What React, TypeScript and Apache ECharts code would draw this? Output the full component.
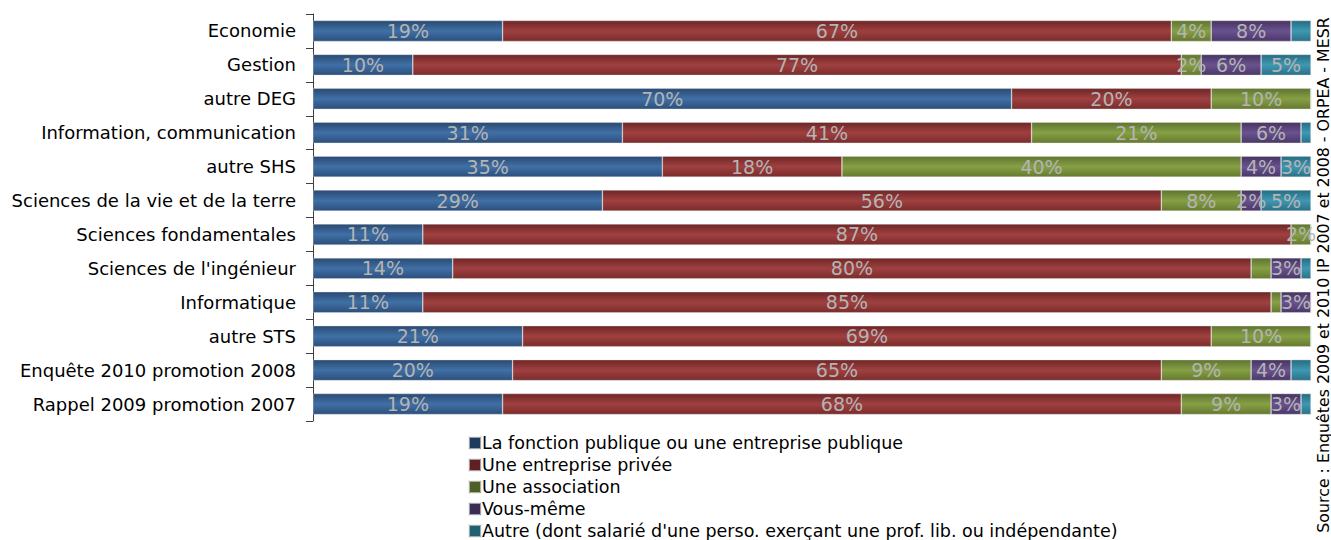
import React, { useEffect, useRef } from "react";
import * as echarts from "echarts";

const categories = [
  "Economie",
  "Gestion",
  "autre DEG",
  "Information, communication",
  "autre SHS",
  "Sciences de la vie et de la terre",
  "Sciences fondamentales",
  "Sciences de l'ingénieur",
  "Informatique",
  "autre STS",
  "Enquête 2010 promotion 2008",
  "Rappel 2009 promotion 2007",
];

const seriesNames = [
  "La fonction publique ou une entreprise publique",
  "Une entreprise privée",
  "Une association",
  "Vous-même",
  "Autre (dont salarié d'une perso. exerçant une prof. lib. ou indépendante)",
];

const publique = [19, 10, 70, 31, 35, 29, 11, 14, 11, 21, 20, 19];
const privee = [67, 77, 20, 41, 18, 56, 87, 80, 85, 69, 65, 68];
const association = [4, 2, 10, 21, 40, 8, 2, 2, 1, 10, 9, 9];
const vousMeme = [8, 6, 0, 6, 4, 2, 0, 3, 3, 0, 4, 3];
const autre = [2, 5, 0, 1, 3, 5, 0, 1, 0, 0, 2, 1];

// labels not printed in the source chart: [seriesIndex, categoryIndex]
const hiddenLabels: [number, number][] = [
  [4, 0],
  [2, 7],
  [4, 10],
];

const sourceText = "Source : Enquêtes 2009 et 2010 IP 2007 et 2008 - ORPEA - MESR";

const barColors = [
  ["#2a4a72", "#4070a6", "#2c4f7c"],
  ["#6e2626", "#a04040", "#7a2c2c"],
  ["#5f7430", "#86a045", "#66792f"],
  ["#45345f", "#6a5290", "#4a3868"],
  ["#256c82", "#3f98b3", "#2a7188"],
];
const legendColors = ["#203a5c", "#5e2020", "#4f6026", "#3a2c52", "#21606f"];

function grad(c: string[]) {
  return new echarts.graphic.LinearGradient(0, 0, 0, 1, [
    { offset: 0, color: c[0] },
    { offset: 0.5, color: c[1] },
    { offset: 1, color: c[2] },
  ]);
}

export default function App() {
  const ref = useRef<HTMLDivElement>(null);
  useEffect(() => {
    if (!ref.current) return;
    const chart = echarts.init(ref.current, undefined, { renderer: "svg" });
    const allData = [publique, privee, association, vousMeme, autre];
    const font = "'DejaVu Sans', sans-serif";
    const series = allData.map((arr, si) => ({
      name: seriesNames[si],
      type: "bar",
      stack: "total",
      barWidth: 21,
      itemStyle: {
        color: grad(barColors[si]),
        borderColor: "rgba(230,230,230,0.6)",
        borderWidth: 0.6,
      },
      label: {
        show: true,
        position: "inside",
        color: "#b4b4b4",
        fontSize: 19,
        fontFamily: font,
        formatter: (p: any) => (p.value >= 2 ? `${p.value}%` : ""),
      },
      data: arr.map((v, ci) => {
        const hide = hiddenLabels.some(([s, c]) => s === si && c === ci);
        return hide ? { value: v, label: { show: false } } : v;
      }),
    }));
    chart.setOption({
      animation: false,
      grid: { left: 313, top: 14, width: 998, height: 407, containLabel: false },
      xAxis: { type: "value", min: 0, max: 100, show: false },
      yAxis: {
        type: "category",
        data: categories,
        inverse: true,
        axisLine: { show: true, lineStyle: { color: "#404040", width: 1 } },
        axisTick: { show: true, length: 7, lineStyle: { color: "#404040" } },
        axisLabel: { color: "#000", fontSize: 18, fontFamily: font, margin: 17 },
        splitLine: { show: false },
      },
      legend: {
        orient: "vertical",
        left: 468,
        top: 434,
        height: 110,
        padding: 0,
        itemWidth: 12,
        itemHeight: 12,
        itemGap: 4,
        icon: "rect",
        textStyle: { color: "#000", fontSize: 17.5, fontFamily: font, padding: [0, 0, 0, -4] },
        data: seriesNames.map((n, i) => ({ name: n, itemStyle: { color: legendColors[i] } })),
      },
      graphic: [
        {
          type: "text",
          x: 1323,
          y: 275,
          rotation: Math.PI / 2,
          style: {
            text: sourceText,
            fontSize: 15.8,
            fontFamily: font,
            fill: "#000",
            textAlign: "center",
            textVerticalAlign: "middle",
          },
        },
      ],
      series,
    });
    return () => chart.dispose();
  }, []);
  return (
    <div
      ref={ref}
      style={{ position: "fixed", left: 0, top: 0, width: 1331, height: 540, background: "#fff" }}
    />
  );
}
